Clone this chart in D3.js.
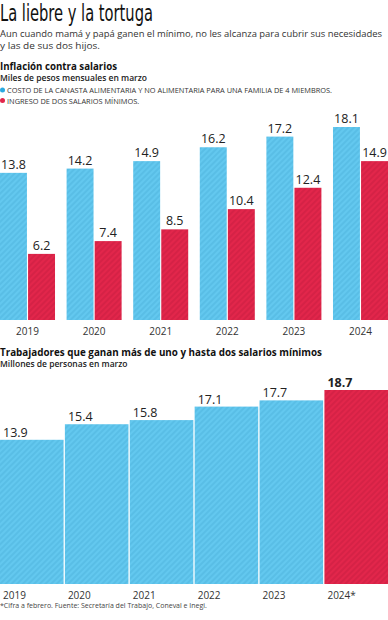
<!DOCTYPE html>
<html>
<head>
<meta charset="utf-8">
<script src="https://cdn.jsdelivr.net/npm/d3@7"></script>
<style>
  body { margin: 0; background: #fff; }
  svg text { font-family: "Open Sans", "Noto Sans", sans-serif; fill: #222; }
</style>
</head>
<body>
<div id="chart"></div>
<script>
// --- DATOS ---
const years = ["2019", "2020", "2021", "2022", "2023", "2024"];
const costoCanasta = [13.8, 14.2, 14.9, 16.2, 17.2, 18.1];
const ingresoSalarios = [6.2, 7.4, 8.5, 10.4, 12.4, 14.9];

const yearsTrab = ["2019", "2020", "2021", "2022", "2023", "2024*"];
const trabajadores = [13.9, 15.4, 15.8, 17.1, 17.7, 18.7];

const W = 388, H = 620;
const BLUE = "#63c8ef", BLUE_H = "#4fb4de";
const RED = "#e2264b", RED_H = "#c91e40";

const svg = d3.select("#chart").append("svg")
    .attr("width", W).attr("height", H);

// motivos rayados
const defs = svg.append("defs");
function hatch(id, base, line) {
    const p = defs.append("pattern").attr("id", id)
        .attr("patternUnits", "userSpaceOnUse")
        .attr("width", 4).attr("height", 4)
        .attr("patternTransform", "rotate(45)");
    p.append("rect").attr("width", 4).attr("height", 4).attr("fill", base);
    p.append("line").attr("x1", 1).attr("y1", 0).attr("x2", 1).attr("y2", 4)
        .attr("stroke", line).attr("stroke-width", 1);
}
hatch("hBlue", BLUE, BLUE_H);
hatch("hRed", RED, RED_H);

// --- ENCABEZADO ---
svg.append("text").attr("x", 0).attr("y", 21)
    .attr("textLength", 153).attr("lengthAdjust", "spacingAndGlyphs")
    .style("font-family", "'Liberation Sans Narrow', 'DejaVu Sans Condensed', sans-serif")
    .style("font-size", "23px").style("fill", "#111")
    .text("La liebre y la tortuga");

const sub = svg.append("g")
    .style("font-family", "Lato, 'Open Sans', sans-serif")
    .style("font-size", "9.6px");
sub.append("text").attr("x", 0).attr("y", 37)
    .attr("textLength", 382).attr("lengthAdjust", "spacingAndGlyphs")
    .style("fill", "#333")
    .text("Aun cuando mamá y papá ganen el mínimo, no les alcanza para cubrir sus necesidades");
sub.append("text").attr("x", 0).attr("y", 49)
    .attr("textLength", 100).attr("lengthAdjust", "spacingAndGlyphs")
    .style("fill", "#333")
    .text("y las de sus dos hijos.");

svg.append("text").attr("x", 0).attr("y", 70)
    .attr("textLength", 117).attr("lengthAdjust", "spacingAndGlyphs")
    .style("font-size", "11px").style("font-weight", "bold").style("fill", "#111")
    .text("Inflación contra salarios");
svg.append("text").attr("x", 0).attr("y", 81)
    .style("font-size", "8.5px").style("font-weight", "600").style("fill", "#222")
    .text("Miles de pesos mensuales en marzo");

// leyenda
const legend = [
    { c: "#2aa9e0", t: "COSTO DE LA CANASTA ALIMENTARIA Y NO ALIMENTARIA PARA UNA FAMILIA DE 4 MIEMBROS." },
    { c: RED, t: "INGRESO DE DOS SALARIOS MÍNIMOS." }
];
const lg = svg.append("g").selectAll("g").data(legend).join("g")
    .attr("transform", (d, i) => `translate(0,${90 + i * 10.5})`);
lg.append("circle").attr("cx", 2.5).attr("cy", 0).attr("r", 2.5).attr("fill", d => d.c);
lg.append("text").attr("x", 7).attr("y", 3)
    .style("font-size", "7.4px").style("fill", "#333")
    .text(d => d.t);

// --- GRÁFICA 1: barras agrupadas ---
const x0 = d3.scaleBand().domain(years).range([0, W]).paddingInner(0.174).paddingOuter(0);
const x1 = d3.scaleBand().domain(["costo", "ingreso"]).range([0, x0.bandwidth()]).paddingInner(0.04);
const y1 = d3.scaleLinear().domain([0, 18.1]).range([320, 127]);

const rows = years.map((yr, i) => ({ year: yr, vals: [
    { k: "costo", v: costoCanasta[i] },
    { k: "ingreso", v: ingresoSalarios[i] }
]}));

const g1 = svg.append("g");
const grp = g1.selectAll("g.grp").data(rows).join("g")
    .attr("class", "grp")
    .attr("transform", d => `translate(${x0(d.year)},0)`);
grp.selectAll("rect").data(d => d.vals).join("rect")
    .attr("x", d => x1(d.k)).attr("width", x1.bandwidth())
    .attr("y", d => y1(d.v)).attr("height", d => y1(0) - y1(d.v))
    .attr("fill", d => d.k === "costo" ? "url(#hBlue)" : "url(#hRed)");
grp.selectAll("text").data(d => d.vals).join("text")
    .attr("x", d => x1(d.k) + x1.bandwidth() / 2)
    .attr("y", d => y1(d.v) - 4)
    .attr("text-anchor", "middle")
    .style("font-size", "12.5px").style("fill", "#222")
    .text(d => d.v.toFixed(1));

const ax1 = g1.append("g").attr("transform", "translate(0,320)")
    .call(d3.axisBottom(x0).tickSize(0).tickPadding(8));
ax1.select(".domain").remove();
ax1.selectAll("text").style("font-size", "10px").style("fill", "#333")
    .style("font-family", "'Open Sans', sans-serif");

// --- GRÁFICA 2 ---
svg.append("text").attr("x", 0).attr("y", 356)
    .attr("textLength", 322).attr("lengthAdjust", "spacingAndGlyphs")
    .style("font-size", "11px").style("font-weight", "bold").style("fill", "#111")
    .text("Trabajadores que ganan más de uno y hasta dos salarios mínimos");
svg.append("text").attr("x", 0).attr("y", 367)
    .style("font-size", "8.5px").style("font-weight", "600").style("fill", "#222")
    .text("Millones de personas en marzo");

const xb = d3.scaleBand().domain(yearsTrab).range([0, W]).paddingInner(0.02).paddingOuter(0);
const y2 = d3.scaleLinear().domain([0, 18.7]).range([584, 390]);
const dat2 = yearsTrab.map((yr, i) => ({ year: yr, v: trabajadores[i], last: i === yearsTrab.length - 1 }));

const g2 = svg.append("g");
g2.selectAll("rect").data(dat2).join("rect")
    .attr("x", d => xb(d.year)).attr("width", xb.bandwidth())
    .attr("y", d => y2(d.v)).attr("height", d => y2(0) - y2(d.v))
    .attr("fill", d => d.last ? "url(#hRed)" : "url(#hBlue)");
g2.selectAll("text.val").data(dat2).join("text")
    .attr("class", "val")
    .attr("x", d => xb(d.year) + 3)
    .attr("y", d => y2(d.v) - 3)
    .style("font-size", "12.5px")
    .style("font-weight", d => d.last ? "bold" : "normal")
    .style("fill", "#222")
    .text(d => d.v.toFixed(1));

const ax2 = g2.append("g").attr("transform", "translate(0,584)")
    .call(d3.axisBottom(xb).tickSize(0).tickPadding(8));
ax2.select(".domain").remove();
ax2.selectAll("text").attr("text-anchor", "start")
    .attr("x", -xb.bandwidth() / 2 + 3)
    .style("font-size", "10px").style("fill", "#333")
    .style("font-family", "'Open Sans', sans-serif");

svg.append("text").attr("x", 0).attr("y", 608)
    .style("font-size", "7px").style("fill", "#444")
    .text("*Cifra a febrero. Fuente: Secretaría del Trabajo, Coneval e Inegi.");
</script>
</body>
</html>
